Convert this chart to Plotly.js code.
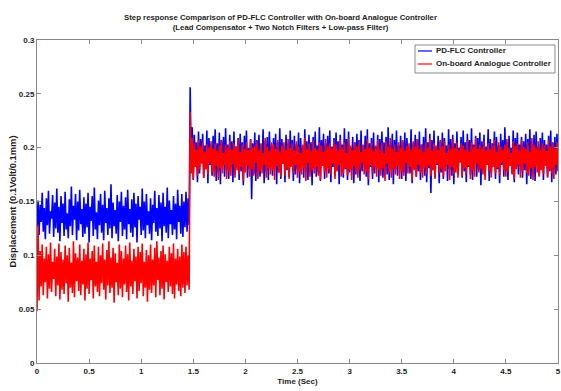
<!DOCTYPE html>
<html>
<head>
<meta charset="utf-8">
<script src="https://cdn.plot.ly/plotly-3.0.1.min.js"></script>
<style>html,body{margin:0;padding:0;background:#fff;}#chart{width:561px;height:391px;}</style>
</head>
<body>
<div id="chart"></div>
<script>
// Sample timing of the recorded signals (s)
var sampleStart = 0;
var sampleStep = 0.01;

// PD-FLC Controller (blue): before step, step spike, after step
var blueBefore = [
0.126,0.151,0.119,0.147,0.131,0.158,0.122,0.144,0.115,0.153,0.128,0.160,0.120,0.141,0.134,0.156,0.117,0.149,0.125,0.162,
0.121,0.145,0.113,0.155,0.130,0.148,0.118,0.159,0.124,0.139,0.116,0.152,0.127,0.164,0.119,0.146,0.133,0.157,0.114,0.150,
0.123,0.161,0.129,0.143,0.117,0.154,0.120,0.148,0.126,0.158,0.112,0.145,0.132,0.155,0.118,0.163,0.124,0.140,0.115,0.151,
0.128,0.157,0.121,0.147,0.114,0.160,0.130,0.144,0.119,0.153,0.125,0.166,0.116,0.149,0.127,0.142,0.120,0.156,0.113,0.150,
0.131,0.159,0.118,0.146,0.124,0.154,0.115,0.161,0.129,0.143,0.121,0.152,0.117,0.158,0.126,0.148,0.112,0.155,0.133,0.145,
0.119,0.162,0.123,0.150,0.116,0.157,0.128,0.141,0.120,0.153,0.114,0.147,0.130,0.160,0.122,0.144,0.118,0.156,0.125,0.149,
0.113,0.158,0.127,0.145,0.121,0.163,0.116,0.151,0.129,0.142,0.119,0.155,0.124,0.148,0.115,0.161,0.131,0.146,0.120,0.157,
0.117,0.150,0.126,0.159,0.122,0.153,0.128];
var blueSpike = [0.256];
var blueAfter = [
0.178,0.219,0.170,0.212,0.183,0.205,0.168,0.215,0.176,0.208,0.186,0.213,0.172,0.202,0.180,0.216,0.167,0.209,0.184,0.200,
0.174,0.211,0.181,0.217,0.169,0.204,0.177,0.214,0.166,0.207,0.185,0.210,0.173,0.218,0.179,0.203,0.171,0.212,0.182,0.206,
0.168,0.215,0.175,0.201,0.187,0.209,0.170,0.213,0.178,0.205,0.165,0.211,0.183,0.216,0.172,0.200,0.180,0.208,0.152,0.204,
0.176,0.214,0.169,0.207,0.184,0.212,0.173,0.203,0.181,0.217,0.167,0.206,0.178,0.210,0.170,0.215,0.186,0.202,0.174,0.209,
0.182,0.213,0.166,0.205,0.177,0.218,0.171,0.208,0.185,0.201,0.168,0.212,0.179,0.204,0.173,0.216,0.183,0.207,0.169,0.211,
0.175,0.203,0.180,0.214,0.167,0.209,0.184,0.200,0.172,0.217,0.178,0.206,0.170,0.212,0.186,0.205,0.165,0.210,0.181,0.215,
0.173,0.202,0.177,0.219,0.169,0.207,0.183,0.213,0.171,0.204,0.187,0.211,0.176,0.216,0.168,0.201,0.182,0.209,0.174,0.214,
0.179,0.206,0.166,0.212,0.185,0.203,0.172,0.218,0.180,0.208,0.170,0.215,0.177,0.200,0.184,0.210,0.167,0.205,0.175,0.213,
0.181,0.207,0.169,0.216,0.178,0.202,0.186,0.211,0.173,0.217,0.165,0.204,0.182,0.209,0.171,0.214,0.176,0.201,0.183,0.212,
0.168,0.208,0.179,0.215,0.172,0.205,0.187,0.210,0.175,0.219,0.170,0.203,0.184,0.213,0.166,0.207,0.180,0.216,0.174,0.202,
0.185,0.211,0.171,0.206,0.177,0.214,0.169,0.209,0.182,0.200,0.176,0.217,0.167,0.204,0.183,0.212,0.173,0.208,0.178,0.215,
0.170,0.203,0.186,0.210,0.174,0.218,0.168,0.205,0.181,0.213,0.158,0.207,0.179,0.216,0.172,0.201,0.184,0.211,0.167,0.206,
0.177,0.214,0.171,0.209,0.185,0.202,0.169,0.217,0.180,0.208,0.174,0.212,0.166,0.204,0.183,0.215,0.176,0.200,0.187,0.210,
0.172,0.216,0.178,0.205,0.168,0.213,0.182,0.207,0.175,0.218,0.170,0.203,0.185,0.211,0.173,0.209,0.179,0.214,0.165,0.206,
0.181,0.212,0.174,0.201,0.186,0.217,0.169,0.208,0.177,0.204,0.183,0.215,0.171,0.210,0.180,0.202,0.167,0.213,0.184,0.207,
0.173,0.219,0.178,0.205,0.170,0.211,0.185,0.200,0.176,0.216,0.168,0.209,0.182,0.214,0.175,0.203,0.187,0.210,0.172,0.206,
0.179,0.213,0.166,0.208,0.184,0.217,0.171,0.204,0.177,0.212,0.169,0.215,0.183,0.201,0.174,0.209,0.180,0.214,0.170,0.207,
0.185,0.203,0.173,0.211,0.178,0.216,0.168,0.205,0.182,0.210,0.175,0.213,0.179];

// On-board Analogue Controller (red)
var redBefore = [
0.048,0.128,0.058,0.104,0.071,0.110,0.063,0.097,0.075,0.108,0.060,0.101,0.069,0.112,0.066,0.094,0.078,0.106,0.062,0.099,
0.072,0.111,0.059,0.103,0.068,0.096,0.064,0.109,0.074,0.100,0.057,0.107,0.070,0.093,0.065,0.113,0.061,0.102,0.076,0.098,
0.067,0.110,0.063,0.095,0.073,0.106,0.058,0.101,0.069,0.112,0.064,0.097,0.077,0.104,0.060,0.109,0.071,0.094,0.066,0.108,
0.062,0.100,0.074,0.111,0.068,0.096,0.059,0.105,0.072,0.113,0.065,0.098,0.070,0.107,0.056,0.102,0.075,0.093,0.063,0.110,
0.069,0.104,0.061,0.097,0.073,0.109,0.066,0.101,0.058,0.112,0.071,0.095,0.064,0.106,0.076,0.099,0.060,0.108,0.067,0.103,
0.074,0.111,0.062,0.094,0.070,0.105,0.057,0.100,0.068,0.110,0.065,0.096,0.072,0.107,0.061,0.113,0.077,0.098,0.063,0.104,
0.069,0.109,0.059,0.101,0.075,0.095,0.066,0.108,0.071,0.102,0.064,0.111,0.060,0.097,0.073,0.106,0.067,0.099,0.062,0.110,
0.070,0.103,0.065,0.108,0.072,0.100,0.068];
var redSpike = [0.233];
var redAfter = [
0.176,0.209,0.171,0.204,0.182,0.198,0.174,0.207,0.179,0.201,0.185,0.205,0.172,0.196,0.180,0.203,0.175,0.200,0.186,0.206,
0.177,0.199,0.173,0.204,0.183,0.197,0.170,0.202,0.181,0.207,0.176,0.195,0.184,0.203,0.171,0.200,0.178,0.206,0.174,0.198,
0.185,0.204,0.172,0.201,0.179,0.208,0.175,0.196,0.182,0.203,0.169,0.199,0.177,0.205,0.183,0.197,0.173,0.207,0.180,0.200,
0.174,0.202,0.186,0.206,0.171,0.198,0.178,0.204,0.176,0.195,0.184,0.209,0.172,0.201,0.181,0.197,0.175,0.205,0.179,0.203,
0.170,0.199,0.183,0.207,0.177,0.196,0.173,0.202,0.185,0.205,0.174,0.198,0.180,0.208,0.171,0.200,0.182,0.204,0.176,0.197,
0.184,0.206,0.172,0.201,0.178,0.195,0.175,0.203,0.181,0.209,0.169,0.199,0.186,0.204,0.173,0.197,0.179,0.207,0.176,0.200,
0.182,0.198,0.174,0.205,0.170,0.202,0.183,0.196,0.177,0.208,0.172,0.201,0.180,0.204,0.175,0.199,0.185,0.206,0.171,0.203,
0.178,0.197,0.184,0.207,0.173,0.200,0.176,0.205,0.181,0.195,0.174,0.209,0.179,0.202,0.170,0.198,0.183,0.204,0.177,0.201,
0.172,0.206,0.180,0.196,0.186,0.203,0.175,0.199,0.178,0.208,0.171,0.200,0.184,0.205,0.176,0.197,0.182,0.202,0.173,0.207,
0.179,0.198,0.174,0.204,0.181,0.195,0.169,0.206,0.185,0.201,0.177,0.209,0.172,0.199,0.180,0.203,0.175,0.196,0.183,0.205,
0.171,0.200,0.178,0.207,0.174,0.197,0.186,0.202,0.176,0.204,0.182,0.198,0.170,0.206,0.179,0.201,0.173,0.208,0.184,0.199,
0.177,0.203,0.172,0.196,0.181,0.205,0.175,0.200,0.183,0.209,0.174,0.197,0.179,0.204,0.171,0.202,0.185,0.198,0.176,0.207,
0.180,0.201,0.173,0.206,0.178,0.195,0.184,0.203,0.170,0.199,0.182,0.208,0.175,0.200,0.177,0.205,0.172,0.197,0.186,0.204,
0.174,0.202,0.181,0.198,0.176,0.207,0.183,0.196,0.171,0.205,0.179,0.201,0.173,0.209,0.185,0.199,0.177,0.203,0.180,0.200,
0.175,0.206,0.170,0.197,0.184,0.204,0.178,0.199,0.172,0.202,0.182,0.207,0.176,0.196,0.181,0.205,0.174,0.201,0.186,0.198,
0.179,0.203,0.173,0.208,0.177,0.200,0.183,0.195,0.175,0.206,0.171,0.202,0.180,0.204,0.184,0.197,0.172,0.207,0.178,0.201,
0.185,0.199,0.176,0.205,0.174,0.196,0.181,0.209,0.170,0.203,0.182,0.200,0.177,0.206,0.173,0.198,0.179,0.204,0.175,0.202,
0.183,0.197,0.172,0.207,0.180,0.201,0.176,0.204,0.171,0.199,0.184,0.205,0.178];

var seriesNames = ['PD-FLC Controller', 'On-board Analogue Controller'];
var seriesColors = ['#0000ff', '#ff0000'];
var xTicks = [0,0.5,1,1.5,2,2.5,3,3.5,4,4.5,5];
var yTicks = [0,0.05,0.1,0.15,0.2,0.25,0.3];

var blueY = blueBefore.concat(blueSpike, blueAfter);
var redY = redBefore.concat(redSpike, redAfter);

var FONT = 'Liberation Sans, Arial, sans-serif';
var TXT = '#1e1e1e';

var traces = [
  {type:'scatter', mode:'lines', name:seriesNames[0], x0:sampleStart, dx:sampleStep, y:blueY,
   line:{color:seriesColors[0], width:1.6}},
  {type:'scatter', mode:'lines', name:seriesNames[1], x0:sampleStart, dx:sampleStep, y:redY,
   line:{color:seriesColors[1], width:1.6}}
];

var axisCommon = {
  showgrid:false, zeroline:false, showline:true, linecolor:'#8a8a8a', linewidth:1,
  mirror:'ticks', ticks:'inside', ticklen:4, tickcolor:'#8a8a8a', tickwidth:1,
  tickfont:{family:FONT, size:8, color:TXT, weight:'bold'}, tickmode:'array'
};

// Hand-built compact legend (MATLAB style) in paper coordinates
var lgL = 0.7255, lgR = 0.9942, lgT = 0.9845, lgB = 0.8978;
var rowY = [0.966, 0.9257];
var shapes = [{type:'rect', xref:'paper', yref:'paper', x0:lgL, x1:lgR, y0:lgB, y1:lgT,
  line:{color:'#8a8a8a', width:1}, fillcolor:'#fff', layer:'above'}];
var annotations = [];
for (var i = 0; i < 2; i++) {
  shapes.push({type:'line', xref:'paper', yref:'paper', x0:0.7313, x1:0.7582, y0:rowY[i], y1:rowY[i],
    line:{color:seriesColors[i], width:1.2}, layer:'above'});
  annotations.push({xref:'paper', yref:'paper', x:0.7615, y:rowY[i], xanchor:'left', yanchor:'middle',
    text:seriesNames[i], showarrow:false, font:{family:FONT, size:8, color:TXT, weight:'bold'}});
}

var layout = {
  width:561, height:391,
  margin:{l:37, r:3, t:40, b:28, pad:0},
  paper_bgcolor:'#fff', plot_bgcolor:'#fff',
  font:{family:FONT, color:TXT},
  showlegend:false,
  shapes:shapes,
  annotations:annotations,
  title:{text:'Step response Comparison of PD-FLC Controller with On-board Analogue Controller<br>(Lead Compensator + Two Notch Filters + Low-pass Filter)',
    font:{family:FONT, size:7.8, color:TXT, weight:'bold'},
    x:0.5, xanchor:'center', xref:'container', y:1-20/391, yanchor:'top', yref:'container'},
  xaxis:Object.assign({}, axisCommon, {range:[0,5], tickvals:xTicks,
    title:{text:'Time (Sec)', font:{family:FONT, size:8, color:TXT, weight:'bold'}, standoff:3}}),
  yaxis:Object.assign({}, axisCommon, {range:[0,0.3], tickvals:yTicks,
    title:{text:'Displacement (0.1Volt/0.1mm)', font:{family:FONT, size:9.4, color:TXT, weight:'bold'}, standoff:0}})
};

Plotly.newPlot('chart', traces, layout, {displayModeBar:false, staticPlot:true});
</script>
</body>
</html>
